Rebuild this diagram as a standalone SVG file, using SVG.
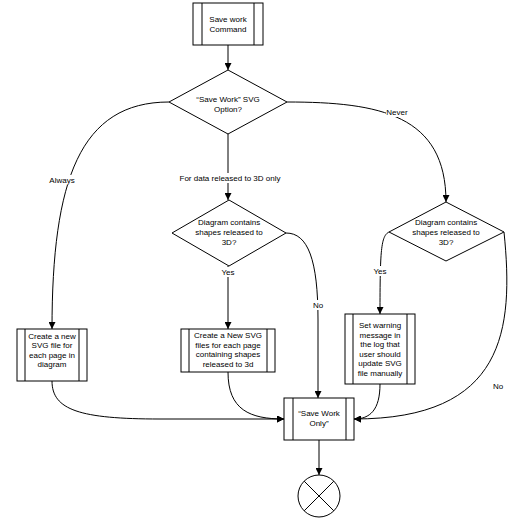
<svg xmlns="http://www.w3.org/2000/svg" width="523" height="519" viewBox="0 0 523 519">
<defs>
<marker id="arr" viewBox="0 0 10 10" refX="10" refY="5" markerWidth="7" markerHeight="7" markerUnits="userSpaceOnUse" orient="auto">
<path d="M0,0 L10,5 L0,10 z" fill="#000"/>
</marker>
<style>
.s{fill:#fff;stroke:#000;stroke-width:1}
.l{fill:none;stroke:#000;stroke-width:1}
.c{fill:none;stroke:#000;stroke-width:1;marker-end:url(#arr)}
text{font-family:"Liberation Sans",Arial,sans-serif;font-size:8px;fill:#000;text-anchor:middle}
.bg{fill:#fff}
</style>
</defs>
<rect width="523" height="519" fill="#fff"/>
<g id="connectors">
<path class="c" d="M228,45 L228,70"/>
<path class="c" d="M169,102 C80,102 52,180 52,329"/>
<path class="c" d="M228,134 L228,200"/>
<path class="c" d="M287,102 C380,102 446,115 446,202"/>
<path class="c" d="M228,266 L228,329"/>
<path class="c" d="M286,233 C308,233 318,260 318,320 L318,398"/>
<path class="c" d="M389,232 C381,236 380,250 380,314"/>
<path class="c" d="M504,232 C514,330 505,419 354,419"/>
<path class="c" d="M52,381 C52,410 80,419 160,419 L284,419"/>
<path class="c" d="M228,372 C228,410 250,419 284,419"/>
<path class="c" d="M380,384 C380,410 370,419 354,419"/>
<path class="c" d="M319,440 L319,475"/>
</g>
<g id="labels">
<rect class="bg" x="48" y="175" width="28" height="10"/>
<text x="62" y="183">Always</text>
<rect class="bg" x="180" y="173" width="101" height="10"/>
<text x="230" y="181">For data released to 3D only</text>
<rect class="bg" x="386" y="107" width="22" height="10"/>
<text x="397" y="115">Never</text>
<rect class="bg" x="221" y="267" width="15" height="10"/>
<text x="228" y="275">Yes</text>
<rect class="bg" x="373" y="266" width="15" height="10"/>
<text x="380" y="274">Yes</text>
<rect class="bg" x="312" y="300" width="12" height="10"/>
<text x="318" y="308">No</text>
<rect class="bg" x="492" y="381" width="12" height="10"/>
<text x="498" y="389">No</text>
</g>
<g id="start">
<rect class="s" x="193" y="3" width="70" height="42"/>
<line class="l" x1="202" y1="3" x2="202" y2="45"/>
<line class="l" x1="254" y1="3" x2="254" y2="45"/>
<text x="228" y="22">Save work</text>
<text x="228" y="32">Command</text>
</g>
<g id="option">
<path class="s" d="M228,70 L287,102 L228,134 L169,102 z"/>
<text x="228" y="102">“Save Work” SVG</text>
<text x="228" y="112">Option?</text>
</g>
<g id="check3d-mid">
<path class="s" d="M229,200 L286,233 L229,266 L172,233 z"/>
<text x="229" y="225">Diagram contains</text>
<text x="229" y="235">shapes released to</text>
<text x="229" y="245">3D?</text>
</g>
<g id="check3d-right">
<path class="s" d="M446,202 L504,232 L446,261 L389,232 z"/>
<text x="446" y="225">Diagram contains</text>
<text x="446" y="235">shapes released to</text>
<text x="446" y="245">3D?</text>
</g>
<g id="create-all">
<rect class="s" x="17" y="329" width="70" height="52"/>
<line class="l" x1="25" y1="329" x2="25" y2="381"/>
<line class="l" x1="79" y1="329" x2="79" y2="381"/>
<text x="52" y="338.5">Create a new</text>
<text x="52" y="348">SVG file for</text>
<text x="52" y="357.5">each page in</text>
<text x="52" y="367">diagram</text>
</g>
<g id="create-3d">
<rect class="s" x="181" y="329" width="94" height="43"/>
<line class="l" x1="189" y1="329" x2="189" y2="372"/>
<line class="l" x1="267" y1="329" x2="267" y2="372"/>
<text x="228" y="338">Create a New SVG</text>
<text x="228" y="347.5">files for each page</text>
<text x="228" y="357">containing shapes</text>
<text x="228" y="366.5">released to 3d</text>
</g>
<g id="warning">
<rect class="s" x="345" y="314" width="70" height="70"/>
<line class="l" x1="353" y1="314" x2="353" y2="384"/>
<line class="l" x1="407" y1="314" x2="407" y2="384"/>
<text x="380" y="328">Set warning</text>
<text x="380" y="337.5">message in</text>
<text x="380" y="347">the log that</text>
<text x="380" y="356.5">user should</text>
<text x="380" y="366">update SVG</text>
<text x="380" y="375.5">file manually</text>
</g>
<g id="save-only">
<rect class="s" x="284" y="398" width="70" height="42"/>
<line class="l" x1="293" y1="398" x2="293" y2="440"/>
<line class="l" x1="346" y1="398" x2="346" y2="440"/>
<text x="319" y="416">“Save Work</text>
<text x="319" y="426">Only”</text>
</g>
<g id="end">
<circle class="s" cx="319" cy="496" r="21"/>
<line class="l" x1="304.2" y1="481.2" x2="333.8" y2="510.8"/>
<line class="l" x1="333.8" y1="481.2" x2="304.2" y2="510.8"/>
</g>
</svg>
